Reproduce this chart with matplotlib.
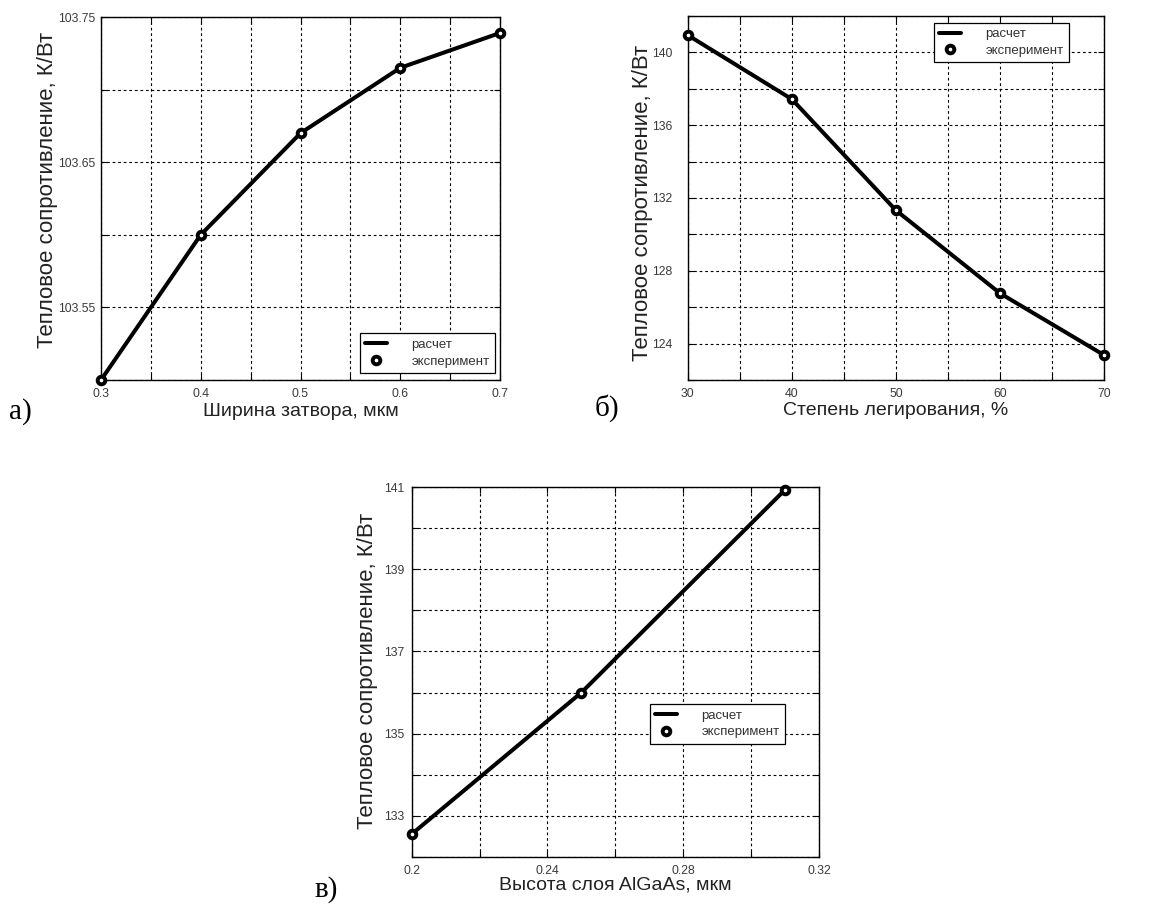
import matplotlib
matplotlib.use("Agg")
import matplotlib.pyplot as plt
from matplotlib import font_manager

# ---------------- data ----------------
gate_width = [0.3, 0.4, 0.5, 0.6, 0.7]
r_gate = [103.50, 103.60, 103.670, 103.715, 103.739]

doping = [30, 40, 50, 60, 70]
r_doping = [140.95, 137.43, 131.32, 126.76, 123.36]

algaas_h = [0.20, 0.25, 0.31]
r_algaas = [132.55, 136.0, 140.94]

ylabel_txt = "Тепловое сопротивление, К/Вт"
xlabels = ["Ширина затвора, мкм", "Степень легирования, %", "Высота слоя AlGaAs, мкм"]
panel_tags = ["а)", "б)", "в)"]
legend_labels = ["расчет", "эксперимент"]

a_xticks = [0.3, 0.35, 0.4, 0.45, 0.5, 0.55, 0.6, 0.65, 0.7]
a_xticklabels = ["0.3", "", "0.4", "", "0.5", "", "0.6", "", "0.7"]
a_yticks = [103.5, 103.55, 103.6, 103.65, 103.7, 103.75]
a_yticklabels = ["", "103.55", "", "103.65", "", "103.75"]

b_xticks = [30, 35, 40, 45, 50, 55, 60, 65, 70]
b_xticklabels = ["30", "", "40", "", "50", "", "60", "", "70"]
b_yticks = [122, 124, 126, 128, 130, 132, 134, 136, 138, 140, 142]
b_yticklabels = ["", "124", "", "128", "", "132", "", "136", "", "140", ""]

c_xticks = [0.2, 0.22, 0.24, 0.26, 0.28, 0.30, 0.32]
c_xticklabels = ["0.2", "", "0.24", "", "0.28", "", "0.32"]
c_yticks = [132, 133, 134, 135, 136, 137, 138, 139, 140, 141]
c_yticklabels = ["", "133", "", "135", "", "137", "", "139", "", "141"]

# ---------------- fonts ----------------
avail = {f.name for f in font_manager.fontManager.ttflist}
narrow = "Liberation Sans Narrow" if "Liberation Sans Narrow" in avail else "Liberation Sans"
sans = "Liberation Sans"
serif = "Liberation Serif"

fig = plt.figure(figsize=(11.76, 9.06), dpi=100)

specs = [
    dict(rect=[101/1176, 1-380/906, 399/1176, 363/906],
         x=gate_width, y=r_gate, xlim=(0.3, 0.7), ylim=(103.5, 103.75),
         xt=a_xticks, xtl=a_xticklabels, yt=a_yticks, ytl=a_yticklabels,
         leg_loc="lower right", leg_anchor=(495/1176, 1-373/906), ypad=4,
         ylab_x=-0.135, ylab_y=0.523, xlab_y=-0.088, tag_xy=(20/1176, 1-412/906)),
    dict(rect=[687.7/1176, 1-380/906, 416.6/1176, 364/906],
         x=doping, y=r_doping, xlim=(30, 70), ylim=(122, 142),
         xt=b_xticks, xtl=b_xticklabels, yt=b_yticks, ytl=b_yticklabels,
         leg_loc="upper right", leg_anchor=(1069/1176, 1-22.7/906), ypad=11,
         ylab_x=-0.108, ylab_y=0.486, xlab_y=-0.083, tag_xy=(607/1176, 1-408/906)),
    dict(rect=[411.7/1176, 1-856.7/906, 407.3/1176, 369.4/906],
         x=algaas_h, y=r_algaas, xlim=(0.2, 0.32), ylim=(132, 141),
         xt=c_xticks, xtl=c_xticklabels, yt=c_yticks, ytl=c_yticklabels,
         leg_loc="upper right", leg_anchor=(785/1176, 1-704/906), ypad=5,
         ylab_x=-0.108, ylab_y=0.503, xlab_y=-0.077, tag_xy=(326/1176, 1-890/906)),
]

for i, s in enumerate(specs):
    ax = fig.add_axes(s["rect"])
    ln, = ax.plot(s["x"], s["y"], color="black", lw=2.9, solid_capstyle="round",
                  label=legend_labels[0], clip_on=False, zorder=3)
    mk, = ax.plot(s["x"], s["y"], linestyle="none", marker="o", markersize=5.5,
                  markerfacecolor="white", markeredgecolor="black", markeredgewidth=2.8,
                  label=legend_labels[1], clip_on=False, zorder=4)
    ax.set_xlim(*s["xlim"])
    ax.set_ylim(*s["ylim"])
    ax.set_xticks(s["xt"])
    ax.set_xticklabels(s["xtl"])
    ax.set_yticks(s["yt"])
    ax.set_yticklabels(s["ytl"])
    ax.grid(True, color="black", linestyle=(0, (2.5, 2.5)), linewidth=0.8)
    ax.tick_params(direction="in", length=4, width=0.8, top=True, right=True,
                   labelsize=8.8, labelcolor="#3a3a3a")
    ax.tick_params(axis="x", pad=6)
    ax.tick_params(axis="y", pad=s["ypad"])
    for lab in ax.get_xticklabels() + ax.get_yticklabels():
        lab.set_fontfamily(narrow)
    for sp in ax.spines.values():
        sp.set_linewidth(1.0)
        sp.set_color("black")
    ax.set_ylabel(ylabel_txt, fontsize=16, fontfamily=sans, color="#222222")
    ax.yaxis.set_label_coords(s["ylab_x"], s["ylab_y"])
    ax.yaxis.label.set_va("center")
    ax.set_xlabel(xlabels[i], fontsize=14, fontfamily=sans, color="#222222")
    ax.xaxis.set_label_coords(0.5, s["xlab_y"])
    ax.xaxis.label.set_va("center")

    leg = fig.legend(handles=[ln, mk], loc=s["leg_loc"], bbox_to_anchor=s["leg_anchor"],
                     bbox_transform=fig.transFigure,
                     prop={"family": sans, "size": 9.5}, fancybox=False, framealpha=1,
                     edgecolor="black", handlelength=1.6, handletextpad=1.9,
                     borderpad=0.4, labelspacing=0.35, borderaxespad=0)
    leg.get_frame().set_linewidth(0.9)
    for t in leg.get_texts():
        t.set_color("#333333")

    fig.text(s["tag_xy"][0], s["tag_xy"][1], panel_tags[i], fontsize=21,
             fontfamily=serif, ha="center", va="center")

fig.savefig("out.png", dpi=100)
